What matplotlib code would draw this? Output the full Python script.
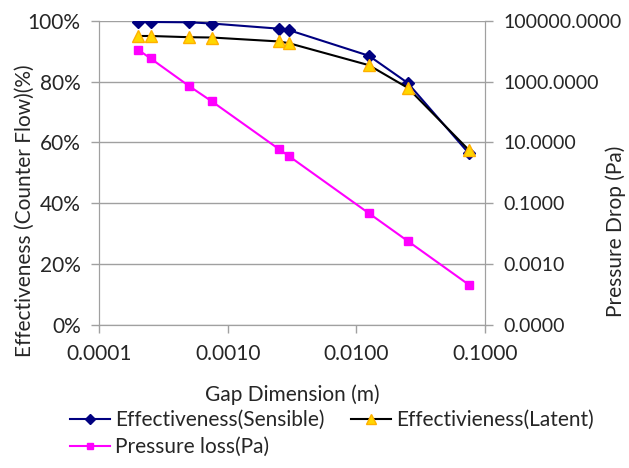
import matplotlib
matplotlib.use("Agg")
import matplotlib.pyplot as pyplot
from matplotlib.ticker import FixedLocator, FuncFormatter

pyplot.rcParams['font.family'] = ['Lato', 'DejaVu Sans']

# gap dimension (m)
gap = [0.0002, 0.00025, 0.0005, 0.00075, 0.0025, 0.003, 0.0125, 0.025, 0.075]
# effectiveness (%)
eff_sensible = [99.7, 99.6, 99.5, 99.1, 97.4, 96.9, 88.5, 79.6, 56.4]
eff_latent = [95.0, 95.0, 94.6, 94.5, 93.2, 92.6, 85.4, 78.0, 57.5]
# pressure loss (Pa)
pressure = [11200, 5800, 710, 224, 6.0, 3.5, 0.047, 0.0058, 0.00021]

x_ticks = [0.0001, 0.001, 0.01, 0.1]
left_ticks = [0, 20, 40, 60, 80, 100]
right_ticks = [1e-5, 1e-3, 1e-1, 1e1, 1e3, 1e5]

grid_col = "#a0a0a0"
text_col = "#262626"
fs = 15

fig = pyplot.figure(figsize=(6.29, 4.68), dpi=100)
ax1 = fig.add_axes([0.158, 0.3056, 0.613, 0.650])
ax2 = ax1.twinx()

ax1.plot(gap, eff_sensible, color="#000080", marker="D", markersize=6.5,
         linewidth=1.5, label="Effectiveness(Sensible)", zorder=3)
ax1.plot(gap, eff_latent, color="black", marker="^", markersize=9,
         markerfacecolor="#ffd700", markeredgecolor="#ffb000", linewidth=1.5,
         label="Effectivieness(Latent)", zorder=4)
ax2.plot(gap, pressure, color="#ff00ff", marker="s", markersize=6,
         linewidth=1.5, label="Pressure loss(Pa)")

ax1.set_xscale("log")
ax1.set_xlim(0.0001, 0.1)
ax1.set_ylim(0, 100)
ax2.set_yscale("log")
ax2.set_ylim(1e-5, 1e5)

ax1.xaxis.set_major_locator(FixedLocator(x_ticks))
ax1.xaxis.set_minor_locator(FixedLocator([]))
ax1.xaxis.set_major_formatter(FuncFormatter(lambda v, p: f"{v:.4f}"))
ax1.yaxis.set_major_locator(FixedLocator(left_ticks))
ax1.yaxis.set_major_formatter(FuncFormatter(lambda v, p: f"{v:.0f}%"))
ax2.yaxis.set_major_locator(FixedLocator(right_ticks))
ax2.yaxis.set_minor_locator(FixedLocator([]))
ax2.yaxis.set_major_formatter(FuncFormatter(lambda v, p: f"{v:.4f}"))

ax1.grid(True, axis="y", color=grid_col, linewidth=1)
ax1.set_axisbelow(True)
for ax in (ax1, ax2):
    for s in ax.spines.values():
        s.set_color(grid_col)
    ax.spines['top'].set_visible(False)
    ax.tick_params(colors=grid_col, labelcolor=text_col, labelsize=fs,
                   length=5.5, width=1)
ax1.tick_params("y", pad=8)
ax1.tick_params("x", pad=8)
ax2.tick_params("y", pad=8, labelsize=14)

# axis titles placed where the reference has them
fig.text(292 / 629, 1 - 395 / 468, "Gap Dimension (m)", fontsize=fs,
         color=text_col, ha="center", va="center")
fig.text(25 / 629, 1 - 211 / 468, "Effectiveness (Counter Flow)(%)", fontsize=fs,
         color=text_col, ha="center", va="center", rotation=90)
fig.text(616 / 629, 1 - 231 / 468, "Pressure Drop (Pa)", fontsize=fs,
         color=text_col, ha="center", va="center", rotation=90)

h1, l1 = ax1.get_legend_handles_labels()
h2, l2 = ax2.get_legend_handles_labels()
leg = fig.legend([h1[0], h2[0], h1[1]], [l1[0], l2[0], l1[1]], ncol=2,
                 loc="upper left", bbox_to_anchor=(70 / 629, 1 - 410 / 468),
                 frameon=False, fontsize=fs, handlelength=1.9,
                 handletextpad=0.25, columnspacing=1.3, labelspacing=0.35,
                 borderpad=0, borderaxespad=0, markerscale=0.8,
                 labelcolor=text_col)

fig.savefig("out.png", dpi=100)
